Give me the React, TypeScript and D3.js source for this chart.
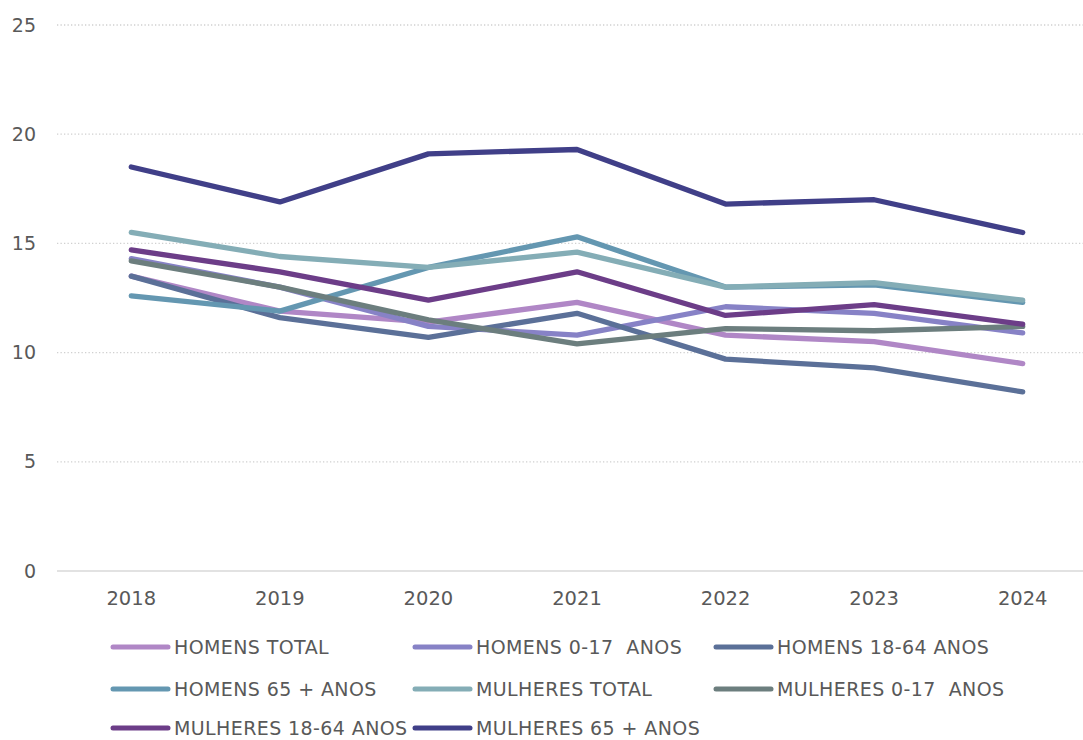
import React from "react";
import * as d3 from "d3";

const years = ["2018", "2019", "2020", "2021", "2022", "2023", "2024"];
const yTicks = [0, 5, 10, 15, 20, 25];

const homensTotal = [13.5, 11.9, 11.4, 12.3, 10.8, 10.5, 9.5];
const homens0a17 = [14.3, 13.0, 11.2, 10.8, 12.1, 11.8, 10.9];
const homens18a64 = [13.5, 11.6, 10.7, 11.8, 9.7, 9.3, 8.2];
const homens65 = [12.6, 11.9, 13.9, 15.3, 13.0, 13.1, 12.3];
const mulheresTotal = [15.5, 14.4, 13.9, 14.6, 13.0, 13.2, 12.4];
const mulheres0a17 = [14.2, 13.0, 11.5, 10.4, 11.1, 11.0, 11.2];
const mulheres18a64 = [14.7, 13.7, 12.4, 13.7, 11.7, 12.2, 11.3];
const mulheres65 = [18.5, 16.9, 19.1, 19.3, 16.8, 17.0, 15.5];

const seriesNames = [
  "HOMENS TOTAL",
  "HOMENS 0-17  ANOS",
  "HOMENS 18-64 ANOS",
  "HOMENS 65 + ANOS",
  "MULHERES TOTAL",
  "MULHERES 0-17  ANOS",
  "MULHERES 18-64 ANOS",
  "MULHERES 65 + ANOS",
];
const seriesValues = [
  homensTotal, homens0a17, homens18a64, homens65,
  mulheresTotal, mulheres0a17, mulheres18a64, mulheres65,
];
const colors = [
  "#b087c6", "#8782c6", "#5b7098", "#6497b1",
  "#84adb6", "#6c7e7e", "#6c3d88", "#403f88",
];

const W = 1083;
const H = 740;
const font = "'Century Gothic', 'DejaVu Sans', sans-serif";

export default function App() {
  // plot area
  const left = 57, right = 1097, top = 25, bottom = 571;
  const x = d3.scalePoint<string>().domain(years).range([left, right]).padding(0.5);
  const y = d3.scaleLinear().domain([0, 25]).range([bottom, top]);
  const line = d3.line<number>()
    .x((d, i) => x(years[i]) as number)
    .y(d => y(d));

  const legendCols = [113, 415, 716];
  const legendRows = [647, 689, 728];

  return (
    <svg width={W} height={H} style={{ position: "fixed", left: 0, top: 0, background: "#fff" }}
      fontFamily={font}>
      {yTicks.map(t => (
        <g key={t}>
          {t > 0 && (
            <line x1={left} x2={W} y1={y(t)} y2={y(t)}
              stroke="#d0d0d0" strokeWidth={1.3} strokeDasharray="1.3 2.2" />
          )}
          <text x={36} y={y(t)} dy="0.35em" textAnchor="end" fontSize={19} fill="#595959">{t}</text>
        </g>
      ))}
      <line x1={left} x2={W} y1={bottom} y2={bottom} stroke="#d9d9d9" strokeWidth={1.5} />
      {years.map(yr => (
        <text key={yr} x={x(yr)} y={bottom + 27} dy="0.35em" textAnchor="middle"
          fontSize={19.5} fill="#595959">{yr}</text>
      ))}
      {seriesValues.map((vals, i) => (
        <path key={seriesNames[i]} d={line(vals) || ""} fill="none" stroke={colors[i]}
          strokeWidth={5.3} strokeLinecap="round" strokeLinejoin="round" />
      ))}
      {seriesNames.map((name, i) => {
        const cx = legendCols[i % 3];
        const cy = legendRows[Math.floor(i / 3)];
        return (
          <g key={name}>
            <line x1={cx} x2={cx + 55} y1={cy} y2={cy} stroke={colors[i]}
              strokeWidth={5} strokeLinecap="round" />
            <text x={cx + 61} y={cy} dy="0.35em" fontSize={19} letterSpacing={0.4} fill="#595959"
              style={{ whiteSpace: "pre" }}>{name}</text>
          </g>
        );
      })}
    </svg>
  );
}
